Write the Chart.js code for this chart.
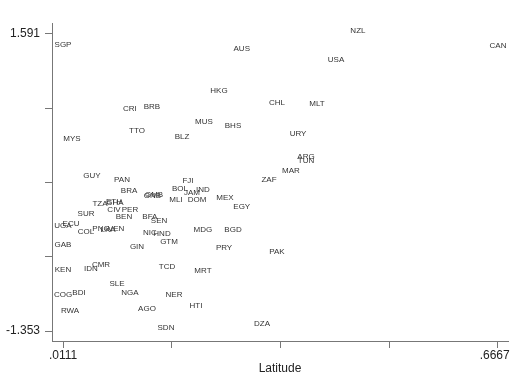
<!DOCTYPE html>
<html><head><meta charset="utf-8">
<script src="https://cdn.jsdelivr.net/npm/chart.js@4"></script>
<style>html,body{margin:0;padding:0;background:#fff;}#wrap{width:527px;height:377px;}</style>
</head><body><div id="wrap"><canvas id="c" width="527" height="377"></canvas></div>
<script>
const codes = ["NZL","SGP","AUS","CAN","USA","HKG","CHL","MLT","CRI","BRB","MUS","BHS","URY","TTO","BLZ","MYS","ARG","TUN","MAR","ZAF","GUY","PAN","FJI","BRA","BOL","IND","GMB","GNB","JAM","MEX","MLI","DOM","EGY","TZA","ETH","GHA","CIV","PER","SUR","BEN","BFA","SEN","UGA","ECU","COL","PNG","LKA","VEN","NIC","HND","MDG","BGD","GTM","GAB","GIN","PRY","PAK","KEN","IDN","CMR","TCD","MRT","SLE","COG","BDI","NGA","NER","HTI","AGO","RWA","DZA","SDN"];
const latitude = [0.4556,0.0111,0.2805,0.6667,0.4226,0.2462,0.3336,0.3940,0.1120,0.1450,0.2236,0.2673,0.3653,0.1226,0.1905,0.0247,0.3773,0.3773,0.3547,0.3216,0.0548,0.1000,0.1995,0.1106,0.1874,0.2220,0.1483,0.1460,0.2055,0.2553,0.1814,0.2130,0.2805,0.0669,0.0880,0.0895,0.0880,0.1120,0.0458,0.1030,0.1420,0.1558,0.0111,0.0232,0.0458,0.0684,0.0789,0.0910,0.1420,0.1603,0.2220,0.2673,0.1709,0.0111,0.1226,0.2538,0.3336,0.0111,0.0533,0.0684,0.1678,0.2220,0.0925,0.0111,0.0352,0.1120,0.1784,0.2116,0.1377,0.0217,0.3110,0.1663];
const outcome = [1.591,1.447,1.407,1.437,1.298,0.991,0.872,0.862,0.813,0.833,0.684,0.644,0.565,0.595,0.535,0.515,0.337,0.297,0.198,0.109,0.149,0.109,0.099,0.000,0.020,0.010,-0.040,-0.045,-0.020,-0.069,-0.089,-0.089,-0.159,-0.129,-0.109,-0.119,-0.188,-0.188,-0.228,-0.258,-0.258,-0.297,-0.347,-0.327,-0.406,-0.377,-0.387,-0.377,-0.416,-0.426,-0.387,-0.387,-0.505,-0.535,-0.555,-0.565,-0.605,-0.783,-0.773,-0.733,-0.753,-0.793,-0.922,-1.031,-1.011,-1.011,-1.031,-1.140,-1.170,-1.189,-1.318,-1.353];
const xTicks = [0.0111,0.1750,0.3389,0.5028,0.6667];
const xTickLabels = [".0111","","","",".6667  "];
const yTicks = [-1.353,-0.617,0.119,0.855,1.591];
const yTickLabels = ["-1.353","","","","1.591"];
const xTitle = "Latitude";

const FONT = "'Liberation Sans', Arial, sans-serif";
const labelPlugin = {
  id: 'mlabels',
  afterDatasetsDraw(chart) {
    const ctx = chart.ctx;
    const meta = chart.getDatasetMeta(0);
    ctx.save();
    ctx.font = "8px " + FONT;
    ctx.fillStyle = "#333";
    ctx.textAlign = "center";
    ctx.textBaseline = "middle";
    meta.data.forEach((el, i) => {
      ctx.fillText(codes[i], el.x, el.y - 3.5);
    });
    ctx.restore();
  }
};

const pts = latitude.map((x, i) => ({x: x, y: outcome[i]}));
new Chart(document.getElementById('c'), {
  type: 'scatter',
  data: { datasets: [{ data: pts, pointRadius: 0, pointHoverRadius: 0 }] },
  options: {
    responsive: false, animation: false,
    layout: { padding: { top: 23, right: 19, left: 0, bottom: 0 } },
    plugins: { legend: { display: false }, tooltip: { enabled: false } },
    scales: {
      x: {
        type: 'linear', min: -0.0055, max: 0.6818,
        afterBuildTicks: s => { s.ticks = xTicks.map(v => ({value: v})); },
        afterFit: s => { s.height = 36; },
        grid: { drawOnChartArea: false, drawTicks: true, tickLength: 7, color: '#777', lineWidth: 1 },
        border: { display: true, color: '#777', width: 1 },
        ticks: { autoSkip: false, maxRotation: 0, padding: 0, color: '#222', font: { size: 12, family: FONT },
          callback: (v, i) => xTickLabels[i] },
        title: { display: true, text: xTitle, color: '#222', font: { size: 12, family: FONT }, padding: { top: 0, bottom: 1 } }
      },
      y: {
        type: 'linear', min: -1.452, max: 1.700,
        afterBuildTicks: s => { s.ticks = yTicks.map(v => ({value: v})); },
        afterFit: s => { s.width = 52; },
        grid: { drawOnChartArea: false, drawTicks: true, tickLength: 7, color: '#777', lineWidth: 1 },
        border: { display: true, color: '#777', width: 1 },
        ticks: { autoSkip: false, padding: 5, color: '#222', font: { size: 12, family: FONT },
          callback: (v, i) => yTickLabels[i] }
      }
    }
  },
  plugins: [labelPlugin]
});
</script>
</body></html>
